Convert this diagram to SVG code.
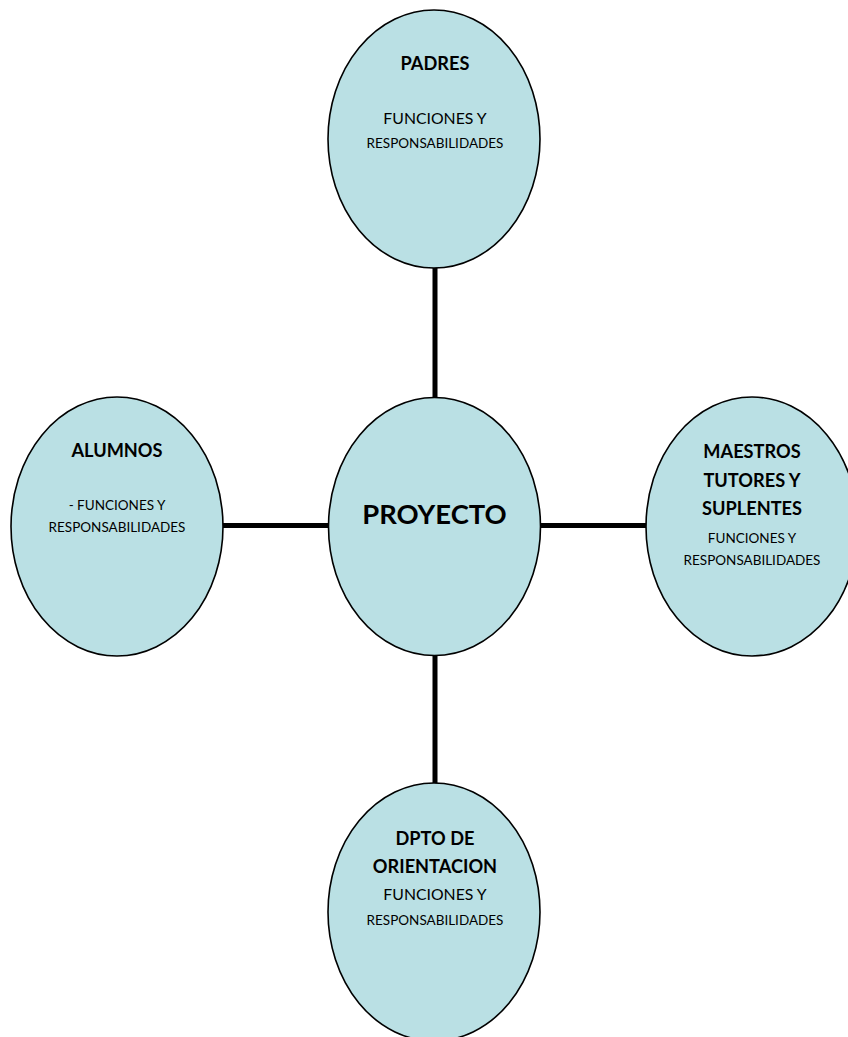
<svg xmlns="http://www.w3.org/2000/svg" width="848" height="1037" viewBox="0 0 848 1037">
<style>
.node{fill:#BAE0E4;stroke:#000;stroke-width:1.6}
.conn{stroke:#000;stroke-width:5;fill:none}
text{font-family:Lato,"Open Sans","Liberation Sans",sans-serif;fill:#000;text-anchor:middle}
.t{font-weight:bold;font-size:18.2px}
.big{font-weight:bold;font-size:27.4px}
.f14{font-size:15.8px}
.f12{font-size:13.5px}
</style>
<rect width="848" height="1037" fill="#fff"/>
<g id="connectors">
<line class="conn" x1="435" y1="267" x2="435" y2="399"/>
<line class="conn" x1="435" y1="654" x2="435" y2="784"/>
<line class="conn" x1="222" y1="525.5" x2="330" y2="525.5"/>
<line class="conn" x1="539" y1="525.5" x2="647" y2="525.5"/>
</g>
<g id="padres">
<ellipse class="node" cx="434" cy="139" rx="106" ry="129"/>
<text class="t" x="435" y="70">PADRES</text>
<text class="f14" x="435" y="124">FUNCIONES Y</text>
<text class="f12" x="435" y="148">RESPONSABILIDADES</text>
</g>
<g id="proyecto">
<ellipse class="node" cx="434.5" cy="526.5" rx="106" ry="129"/>
<text class="big" x="434.5" y="524">PROYECTO</text>
</g>
<g id="alumnos">
<ellipse class="node" cx="117" cy="526.5" rx="106" ry="129.5"/>
<text class="t" x="117" y="457">ALUMNOS</text>
<text class="f12" x="117" y="510">- FUNCIONES Y</text>
<text class="f12" x="117" y="532">RESPONSABILIDADES</text>
</g>
<g id="maestros">
<ellipse class="node" cx="752" cy="526.5" rx="106" ry="129.5"/>
<text class="t" x="752" y="458">MAESTROS</text>
<text class="t" x="752" y="487">TUTORES Y</text>
<text class="t" x="752" y="515">SUPLENTES</text>
<text class="f12" x="752" y="543">FUNCIONES Y</text>
<text class="f12" x="752" y="565">RESPONSABILIDADES</text>
</g>
<g id="dpto">
<ellipse class="node" cx="434" cy="912" rx="106" ry="129"/>
<text class="t" x="435" y="845">DPTO DE</text>
<text class="t" x="435" y="873">ORIENTACION</text>
<text class="f14" x="435" y="900">FUNCIONES Y</text>
<text class="f12" x="435" y="925">RESPONSABILIDADES</text>
</g>
</svg>
